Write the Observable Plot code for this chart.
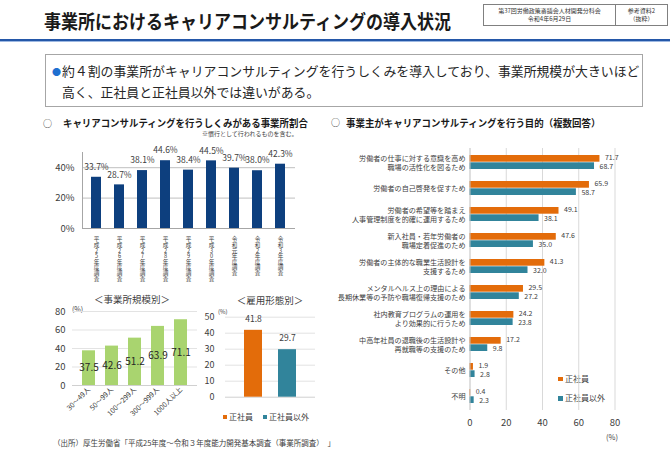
<!DOCTYPE html>
<html><head><meta charset="utf-8">
<script src="https://cdn.jsdelivr.net/npm/d3@7"></script>
<script src="https://cdn.jsdelivr.net/npm/@observablehq/plot@0.6"></script>
<style>
html,body{margin:0;padding:0;background:#fff;}
body{width:670px;height:464px;position:relative;overflow:hidden;font-family:"Noto Sans CJK JP","Noto Sans",sans-serif;color:#262626;}
.abs{position:absolute;white-space:nowrap;line-height:1;}
.fit{display:inline-block;transform-origin:left center;}
.chart{position:absolute;}
.chart svg{overflow:visible;display:block;}
.sq{position:absolute;width:4.5px;height:4.5px;}
</style></head>
<body>
<script>
// ---------------- data ----------------
const years = ["平成25年度調査","平成26年度調査","平成27年度調査","平成28年度調査","平成29年度調査","平成30年度調査","令和元年度調査","令和2年度調査","令和3年度調査"];
const rates = [33.7, 28.7, 38.1, 44.6, 38.4, 44.5, 39.7, 38.0, 42.3];

const sizes = ["30～49人","50～99人","100～299人","300～999人","1000人以上"];
const sizeRates = [37.5, 42.6, 51.2, 63.9, 71.1];

const empTypes = ["正社員","正社員以外"];
const empRates = [41.8, 29.7];

const purposes = [
  "労働者の仕事に対する意識を高め\n職場の活性化を図るため",
  "労働者の自己啓発を促すため",
  "労働者の希望等を踏まえ\n人事管理制度を的確に運用するため",
  "新入社員・若年労働者の\n職場定着促進のため",
  "労働者の主体的な職業生活設計を\n支援するため",
  "メンタルヘルス上の理由による\n長期休業等の予防や職場復帰支援のため",
  "社内教育プログラムの運用を\nより効果的に行うため",
  "中高年社員の退職後の生活設計や\n再就職等の支援のため",
  "その他",
  "不明"
];
const regularPct = [71.7, 65.9, 49.1, 47.6, 41.3, 29.5, 24.2, 17.2, 1.9, 0.4];
const nonRegularPct = [68.7, 58.7, 38.1, 35.0, 32.0, 27.2, 23.8, 9.8, 2.8, 2.3];

const ORANGE = "#e36c0a", TEAL = "#31849b", NAVY = "#0d3f7e", GREEN = "#a9d46f";

// ---------------- static text ----------------
function add(html, style, cls="abs") {
  const d = document.createElement("div");
  d.className = cls; d.style.cssText = style; d.innerHTML = html;
  document.body.appendChild(d); return d;
}
function fit(el, w) {
  const s = w / el.offsetWidth;
  el.style.transform = `scaleX(${s})`;
  return s;
}
const title = add('<span class="fit">事業所におけるキャリアコンサルティングの導入状況</span>', "left:44px;top:11px;font-size:19px;font-weight:bold;color:#1a1a1a;");
add("", "left:0;top:39px;width:670px;height:2px;background:#2457a8;");
add("", "left:0;top:41px;width:670px;height:1px;background:#9db8e2;");

// header boxes
add(`<div style="display:flex;border:1px solid #808080;height:20px;font-size:6px;line-height:8px;color:#333;">
  <div style="width:131px;border-right:1px solid #808080;text-align:center;padding-top:2px;">第37回労働政策審議会人材開発分科会<br>令和4年6月29日</div>
  <div style="width:51px;text-align:center;padding-top:2px;">参考資料2<br>（抜粋）</div></div>`,
  "left:483px;top:4px;");

// bullet box
add("", "left:45px;top:54px;width:596px;height:51px;border:1px solid #a6a6a6;");
add("●", "left:52px;top:66.5px;font-size:9px;color:#1f6fd0;");
const l1 = add('<span class="fit">約４割の事業所がキャリアコンサルティングを行うしくみを導入しており、事業所規模が大きいほど</span>', "left:62px;top:64px;font-size:13px;color:#262626;");
const l2 = add('<span class="fit">高く、正社員と正社員以外では違いがある。</span>', "left:62px;top:85px;font-size:13px;color:#262626;");

// section headings
add("○", "left:43px;top:118.5px;font-size:9px;color:#333;");
const h1 = add('<span class="fit">キャリアコンサルティングを行うしくみがある事業所割合</span>', "left:63px;top:118px;font-size:10px;font-weight:bold;color:#1a1a1a;");
add('<span class="fit">※慣行として行われるものを含む。</span>', "left:202px;top:131px;font-size:6px;color:#404040;");
add("○", "left:331px;top:118px;font-size:9px;color:#333;");
const h2 = add('<span class="fit">事業主がキャリアコンサルティングを行う目的（複数回答）</span>', "left:346px;top:117.5px;font-size:10px;font-weight:bold;color:#1a1a1a;");

// sub-chart titles
add("＜事業所規模別＞", "left:132px;top:295px;font-size:9.5px;color:#404040;transform:translateX(-50%);");
add("＜雇用形態別＞", "left:270px;top:296px;font-size:9.5px;color:#404040;transform:translateX(-50%);");
add("(%)", "left:72px;top:306px;font-size:7px;color:#404040;");
add("(%)", "left:218px;top:309px;font-size:6px;color:#404040;");

// legend for employment chart
add("", `left:222.5px;top:414.5px;background:${ORANGE};`, "sq");
add("正社員", "left:229px;top:412.5px;font-size:8px;color:#404040;");
add("", `left:262.5px;top:414.5px;background:${TEAL};`, "sq");
add("正社員以外", "left:269px;top:412.5px;font-size:8px;color:#404040;");

// legend for purpose chart
add("", `left:558px;top:376.5px;background:${ORANGE};`, "sq");
add("正社員", "left:565px;top:374.5px;font-size:8px;color:#404040;");
add("", `left:558px;top:396px;background:${TEAL};`, "sq");
add("正社員以外", "left:565px;top:394px;font-size:8px;color:#404040;");
add("(%)", "left:606px;top:432.5px;font-size:7.5px;color:#404040;");

// source
add("（出所）厚生労働省「平成25年度～令和３年度能力開発基本調査（事業所調査）　」", "left:53px;top:439px;font-size:7.5px;color:#404040;");

fit(title.firstChild, 407);
const s1 = fit(l1.firstChild, 577);
l2.firstChild.style.transform = `scaleX(${s1})`;
fit(h1.firstChild, 245);
fit(h2.firstChild, 254);

// ---------------- charts ----------------
function place(svg, left, top) {
  const d = document.createElement("div");
  d.className = "chart"; d.style.left = left + "px"; d.style.top = top + "px";
  d.appendChild(svg); document.body.appendChild(d);
  return svg;
}
const baseStyle = {fontFamily: '"Noto Sans CJK JP","Noto Sans",sans-serif', background: "transparent", color: "#404040", overflow: "visible"};

// Chart 1: yearly share
const d1 = years.map((y, i) => ({year: y, v: rates[i]}));
const svg1 = place(Plot.plot({
  width: 265, height: 150, marginLeft: 42, marginRight: 10, marginTop: 12, marginBottom: 62,
  style: baseStyle,
  x: {domain: years, paddingInner: 0.55, paddingOuter: 0.275, axis: null},
  y: {domain: [0, 50], axis: null},
  marks: [
    Plot.gridY([20, 40], {stroke: "#bfbfbf", strokeOpacity: 1}),
    Plot.ruleY([0], {stroke: "#a6a6a6"}),
    Plot.frame({anchor: "left", stroke: "#a6a6a6"}),
    Plot.barY(d1, {x: "year", y: "v", fill: NAVY}),
    Plot.text(d1, {x: "year", y: "v", text: d => d.v.toFixed(1) + "%", dy: -10, fontSize: 8.5, fill: "#404040"}),
    Plot.axisY({ticks: [0, 20, 40], tickFormat: d => d + "%", tickSize: 0, tickPadding: 8, fontSize: 9.5, fill: "#404040", label: null}),
    Plot.axisX({tickSize: 0, tickPadding: 8, fontSize: 5.6, fill: "#404040", label: null})
  ]
}), 40, 140);
// vertical (tategaki) year labels: find the axis texts by their content
const SVGNS = "http://www.w3.org/2000/svg";
const yearSet = new Set(years);
Array.from(svg1.querySelectorAll("text")).filter(t => yearSet.has(t.textContent)).forEach(t => {
  const s = t.textContent;
  t.setAttribute("y", "0");
  t.removeAttribute("dy");
  t.setAttribute("text-anchor", "start");
  t.setAttribute("writing-mode", "vertical-rl");
  t.style.writingMode = "vertical-rl";
  t.style.textOrientation = "upright";
  const b = t.getBBox();
  if (!(b.height > b.width)) {
    // fallback: stack the characters one under another
    t.removeAttribute("writing-mode");
    t.style.writingMode = ""; t.style.textOrientation = "";
    t.setAttribute("text-anchor", "middle");
    t.setAttribute("font-size", "4.7");
    t.textContent = "";
    [...s].forEach((c, i) => {
      const ts = document.createElementNS(SVGNS, "tspan");
      ts.setAttribute("x", "0");
      ts.setAttribute("dy", i ? "1.2em" : "0.9em");
      ts.textContent = c;
      t.appendChild(ts);
    });
  }
});

// Chart 2: by establishment size
const d2 = sizes.map((s, i) => ({size: s, v: sizeRates[i]}));
place(Plot.plot({
  width: 165, height: 120, marginLeft: 32, marginRight: 8, marginTop: 6, marginBottom: 40,
  style: baseStyle,
  x: {domain: sizes, paddingInner: 0.45, paddingOuter: 0.33, axis: null},
  y: {domain: [0, 80], axis: null},
  marks: [
    Plot.gridY([20, 40, 60, 80], {stroke: "#e3e3e3", strokeOpacity: 1}),
    Plot.ruleY([0], {stroke: "#d0d0d0"}),
    Plot.barY(d2, {x: "size", y: "v", fill: GREEN}),
    Plot.text(d2, {x: "size", y: d => d.v / 2, text: d => d.v.toFixed(1), fontSize: 10, fill: "#262626"}),
    Plot.axisY({ticks: [0, 20, 40, 60, 80], tickSize: 0, tickPadding: 7, fontSize: 9.5, fill: "#404040", label: null}),
    Plot.axisX({tickRotate: -45, tickSize: 0, tickPadding: 3, fontSize: 7, fill: "#404040", label: null})
  ]
}), 40, 305);

// Chart 3: by employment type
const d3e = empTypes.map((t, i) => ({type: t, v: empRates[i]}));
place(Plot.plot({
  width: 120, height: 100, marginLeft: 20, marginRight: 10, marginTop: 11.7, marginBottom: 8.3,
  style: baseStyle,
  x: {domain: empTypes, paddingInner: 0.485, paddingOuter: 0.566, axis: null},
  y: {domain: [0, 50], axis: null},
  color: {domain: empTypes, range: [ORANGE, TEAL]},
  marks: [
    Plot.gridY([10, 20, 30, 40, 50], {stroke: "#e3e3e3", strokeOpacity: 1}),
    Plot.ruleY([0], {stroke: "#d0d0d0"}),
    Plot.barY(d3e, {x: "type", y: "v", fill: "type"}),
    Plot.text(d3e, {x: "type", y: "v", text: d => d.v.toFixed(1), dy: -11, fontSize: 8.5, fill: "#404040"}),
    Plot.axisY({ticks: [0, 10, 20, 30, 40, 50], tickSize: 0, tickPadding: 11, fontSize: 9, fill: "#404040", label: null})
  ]
}), 205, 305);

// Chart 4: purposes
const regRows = purposes.map((p, i) => ({p, v: regularPct[i]}));
const nonRows = purposes.map((p, i) => ({p, v: nonRegularPct[i]}));
place(Plot.plot({
  width: 335, height: 300, marginLeft: 139.5, marginRight: 50.5, marginTop: 8, marginBottom: 30,
  style: baseStyle,
  y: {domain: purposes, paddingInner: 0.45, paddingOuter: 0.225, axis: null},
  x: {domain: [0, 80], axis: null},
  marks: [
    Plot.gridX([20, 40, 60, 80], {stroke: "#d9d9d9", strokeOpacity: 1}),
    Plot.barX(regRows, {y: "p", x: "v", fill: ORANGE, insetBottom: 7.3}),
    Plot.barX(nonRows, {y: "p", x: "v", fill: TEAL, insetTop: 7.3}),
    Plot.text(regRows, {y: "p", x: "v", text: d => d.v.toFixed(1), dx: 5, dy: -4.4, textAnchor: "start", fontSize: 7, fill: "#404040"}),
    Plot.text(nonRows, {y: "p", x: "v", text: d => d.v.toFixed(1), dx: 5, dy: 4.4, textAnchor: "start", fontSize: 7, fill: "#404040"}),
    Plot.ruleX([0], {stroke: "#bfbfbf"}),
    Plot.axisY({tickSize: 0, tickPadding: 4.5, fontSize: 7.1, lineHeight: 1.22, fill: "#404040", label: null}),
    Plot.axisX({ticks: [0, 20, 40, 60, 80], tickSize: 0, tickPadding: 9, fontSize: 9.5, fill: "#404040", label: null})
  ]
}), 330, 140);
</script>
</body></html>
